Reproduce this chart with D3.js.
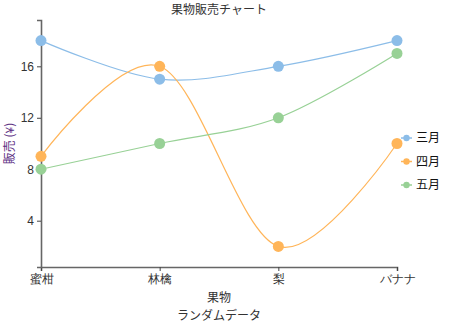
<!DOCTYPE html>
<html>
<head>
<meta charset="utf-8">
<script src="https://cdn.jsdelivr.net/npm/d3@7"></script>
<style>
  html, body { margin: 0; padding: 0; background: #fff; }
  svg { display: block; font-family: "Noto Sans CJK JP", "Noto Sans", sans-serif; }
</style>
</head>
<body>
<svg id="chart" width="451" height="324"></svg>
<script>
// Fruit sales by month
const fruits = ["蜜柑", "林檎", "梨", "バナナ"];
const months = ["三月", "四月", "五月"];
const march = [18, 15, 16, 18];
const april = [9, 16, 2, 10];
const may = [8, 10, 12, 17];
const yTicks = [4, 8, 12, 16];
const colors = ["#8cbde8", "#ffb559", "#98d196"];

const series = [march, april, may].map((values, i) => ({
  name: months[i], color: colors[i], values
}));

const svg = d3.select("#chart");
const margin = { top: 20, left: 41, right: 54, bottom: 57 };
const W = 451, H = 324;

const x = d3.scalePoint().domain(fruits).range([margin.left, W - margin.right]);
const allVals = [].concat(march, april, may);
const lo = d3.min(allVals), hi = d3.max(allVals), pad = (hi - lo) * 0.1;
const y = d3.scaleLinear().domain([lo - pad, hi + pad]).range([H - margin.bottom, margin.top]);

// Axes
const axisColor = "#666";
const gx = svg.append("g")
  .attr("transform", `translate(0,${H - margin.bottom})`)
  .call(d3.axisBottom(x).tickSize(4).tickPadding(3));
const gy = svg.append("g")
  .attr("transform", `translate(${margin.left},0)`)
  .call(d3.axisLeft(y).tickValues(yTicks).tickSize(4).tickPadding(3));
[gx, gy].forEach(g => {
  g.select(".domain").attr("stroke", axisColor).attr("stroke-width", 1.6);
  g.selectAll(".tick line").attr("stroke", "#444").attr("stroke-width", 1);
  g.selectAll(".tick text").attr("fill", "#333").style("font-size", "12px");
});

// Lines and points
const line = d3.line()
  .x((d, i) => x(fruits[i]))
  .y(d => y(d))
  .curve(d3.curveCardinal);

series.forEach(s => {
  svg.append("path")
    .attr("d", line(s.values))
    .attr("fill", "none")
    .attr("stroke", s.color)
    .attr("stroke-width", 1.2);
});
series.forEach(s => {
  svg.append("g").selectAll("circle")
    .data(s.values)
    .join("circle")
    .attr("cx", (d, i) => x(fruits[i]))
    .attr("cy", d => y(d))
    .attr("r", 5.5)
    .attr("fill", s.color);
});

// Title and axis labels
const cx = (margin.left + W - margin.right) / 2;
svg.append("text").attr("x", cx).attr("y", 14)
  .attr("text-anchor", "middle").attr("fill", "#333").style("font-size", "12px")
  .text("果物販売チャート");
svg.append("text").attr("x", cx).attr("y", 302)
  .attr("text-anchor", "middle").attr("fill", "#333").style("font-size", "12px")
  .text("果物");
svg.append("text").attr("x", cx).attr("y", 320)
  .attr("text-anchor", "middle").attr("fill", "#333").style("font-size", "12px")
  .text("ランダムデータ");
svg.append("text")
  .attr("transform", `translate(14,${(margin.top + H - margin.bottom) / 2}) rotate(-90)`)
  .attr("text-anchor", "middle").attr("fill", "#5a2d82").style("font-size", "12px")
  .text("販売 (¥)");

// Legend
const legend = svg.append("g").attr("transform", "translate(401,138)");
series.forEach((s, i) => {
  const g = legend.append("g").attr("transform", `translate(0,${i * 23.5})`);
  g.append("line").attr("x1", 0).attr("x2", 11).attr("y1", 0).attr("y2", 0)
    .attr("stroke", s.color).attr("stroke-width", 1.5);
  g.append("circle").attr("cx", 5.5).attr("cy", 0).attr("r", 3.2).attr("fill", s.color);
  g.append("text").attr("x", 15).attr("y", 0).attr("dy", "0.35em")
    .attr("fill", "#111").style("font-size", "12px").text(s.name);
});
</script>
</body>
</html>
